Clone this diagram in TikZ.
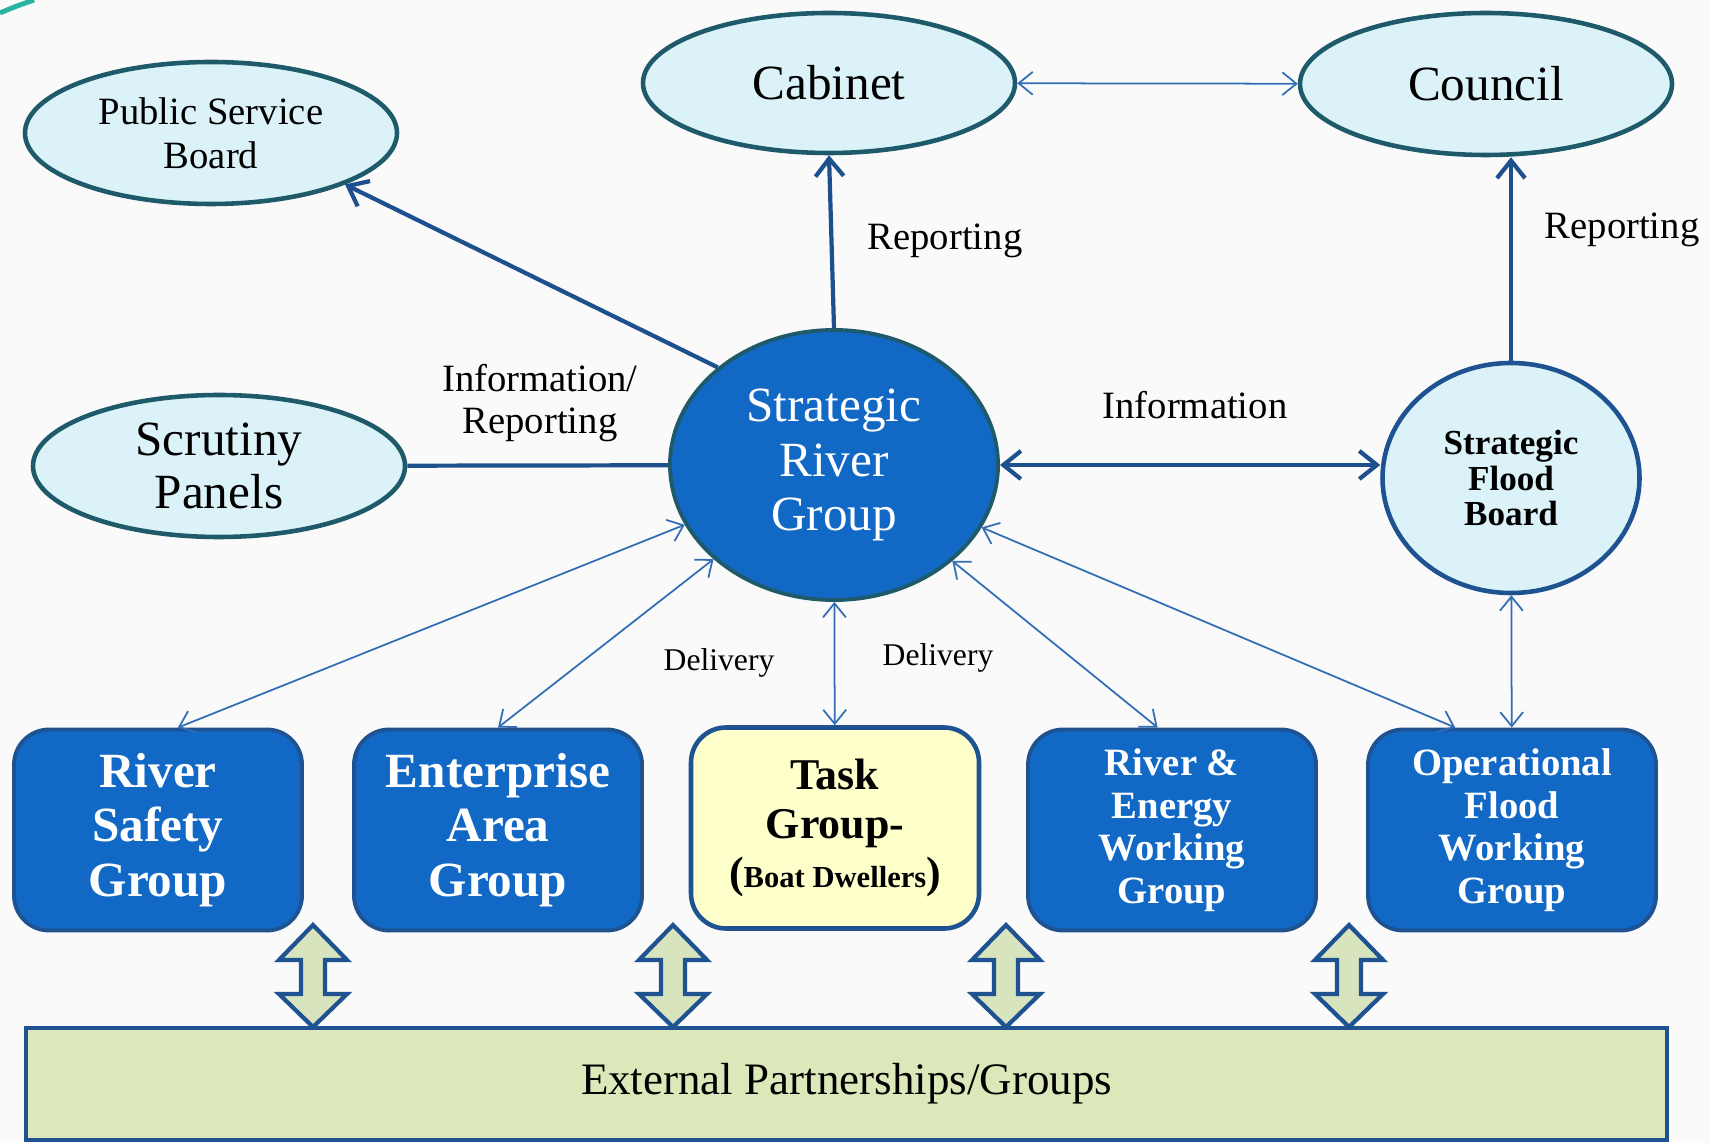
\documentclass[tikz,border=0pt]{standalone}
\usepackage{fontspec}
\setmainfont{Liberation Serif}
\usetikzlibrary{shapes,arrows.meta,positioning}

\definecolor{pagebg}{RGB}{250,250,250}
\definecolor{paleblue}{RGB}{219,243,248}
\definecolor{tealline}{RGB}{30,90,106}
\definecolor{hubblue}{RGB}{17,105,197}
\definecolor{boxline}{RGB}{30,82,145}
\definecolor{linkblue}{RGB}{30,80,142}
\definecolor{thinblue}{RGB}{50,110,180}
\definecolor{paleyellow}{RGB}{255,255,204}
\definecolor{arrowgreen}{RGB}{215,228,189}
\definecolor{bargreen}{RGB}{221,232,186}
\definecolor{accent}{RGB}{40,180,160}

\tikzset{
    board/.style={ellipse, draw=tealline, line width=1.3pt, fill=paleblue,
        minimum width=37.2mm, minimum height=14.2mm, inner sep=0pt, align=center},
    hub/.style={ellipse, draw=tealline, line width=1.1pt, fill=hubblue, text=white,
        minimum width=32.8mm, minimum height=27mm, inner sep=0pt, align=center,
        font=\fontsize{14}{15.4}\selectfont},
    group/.style={rectangle, rounded corners=3.5mm, draw=boxline, line width=1.1pt,
        fill=hubblue, text=white, minimum width=28.8mm, minimum height=20.1mm,
        inner sep=0pt, align=center, font=\bfseries\fontsize{14}{15.5}\selectfont},
    bar/.style={rectangle, draw=boxline, line width=1.1pt, fill=bargreen,
        minimum width=164.1mm, minimum height=11.2mm, inner sep=0pt,
        font=\fontsize{12.8}{14}\selectfont},
    blockarrow/.style={draw=boxline, line width=1.2pt, fill=arrowgreen, line join=miter},
    tag/.style={inner sep=0pt, align=center, font=\fontsize{11}{12.1}\selectfont},
    report/.style={draw=linkblue, line width=1.2pt, -{Straight Barb[length=5pt,width=8pt]}},
    infoline/.style={draw=linkblue, line width=1.2pt},
    link/.style={draw=thinblue, line width=0.5pt,
        {Straight Barb[length=4pt,width=6.5pt]}-{Straight Barb[length=4pt,width=6.5pt]}}
}

\begin{document}
\begin{tikzpicture}[x=0.1mm,y=-0.1mm]
    \useasboundingbox (0,0) rectangle (1711,1143);
    \fill[pagebg] (0,0) rectangle (1711,1143);
    \draw[accent, line width=1.4pt] (0,13) .. controls (14,7) .. (34,0);

    % Boards
    \node[board, font=\fontsize{11}{12.4}\selectfont] (psb) at (211,133) {Public Service\\Board};
    \node[board, minimum height=14mm, font=\fontsize{14}{15}\selectfont] (cabinet) at (829,83) {Cabinet};
    \node[board, font=\fontsize{14}{15}\selectfont] (council) at (1486,84) {Council};
    \node[board, font=\fontsize{14}{15.1}\selectfont] (scrutiny) at (219,466) {Scrutiny\\Panels};

    % Hub and flood board
    \node[hub] (srg) at (834,465) {Strategic\\River\\Group};
    \node[board, draw=boxline, minimum width=25.7mm, minimum height=23mm,
        font=\bfseries\fontsize{10}{10.2}\selectfont] (sfb) at (1511,478) {Strategic\\Flood\\Board};

    % Groups
    \node[group] (rsg) at (158,830) {River\\Safety\\Group};
    \node[group] (eag) at (498,830) {Enterprise\\Area\\Group};
    \node[group, fill=paleyellow, text=black, line width=1.3pt,
        font=\bfseries\fontsize{12.5}{14}\selectfont] (task) at (835,828)
        {Task\\Group-\\({\fontsize{8.7}{14}\selectfont Boat Dwellers})};
    \node[group, font=\bfseries\fontsize{11}{12.1}\selectfont] (rewg) at (1172,830) {River \&\\Energy\\Working\\Group};
    \node[group, font=\bfseries\fontsize{11}{12.1}\selectfont] (ofwg) at (1512,830) {Operational\\Flood\\Working\\Group};

    % Partnerships
    \node[bar] (ext) at (846.5,1084) {External Partnerships/Groups};
    \foreach \x in {313,673,1006,1349} {
        \draw[blockarrow] (\x,925) -- (\x+34,960) -- (\x+12,960) -- (\x+12,994)
            -- (\x+34,994) -- (\x,1027) -- (\x-34,994) -- (\x-12,994)
            -- (\x-12,960) -- (\x-34,960) -- cycle;
    }

    % Reporting lines
    \draw[report] (srg.140) -- (psb.-21);
    \draw[report] (srg.north) -- (cabinet.south);
    \node[tag] (rep1) at (945,241) {Reporting};
    \draw[report] (sfb.north) -- (sfb.north |- council.south);
    \node[tag] (rep2) at (1622,230) {Reporting};
    \draw[link] (cabinet) -- (council);

    % Information
    \draw[infoline] (scrutiny) -- (srg);
    \node[tag] (inforep) at (540,403) {Information/\\Reporting};
    \draw[report, {Straight Barb[length=5pt,width=8pt]}-{Straight Barb[length=5pt,width=8pt]}]
        (srg.east) -- (srg.east -| sfb.west);
    \node[tag] (info) at (1195,405) {Information};

    % Delivery
    \draw[link] (srg) -- (rsg.79);
    \draw[link] (srg) -- (eag.north);
    \draw[link] (srg) -- (task);
    \draw[link] (srg) -- (rewg.98);
    \draw[link] (srg) -- (ofwg.119);
    \draw[link] (sfb) -- (ofwg);
    \node[tag, font=\fontsize{9}{10}\selectfont] (del1) at (719,663) {Delivery};
    \node[tag, font=\fontsize{9}{10}\selectfont] (del2) at (938,658) {Delivery};
\end{tikzpicture}
\end{document}
